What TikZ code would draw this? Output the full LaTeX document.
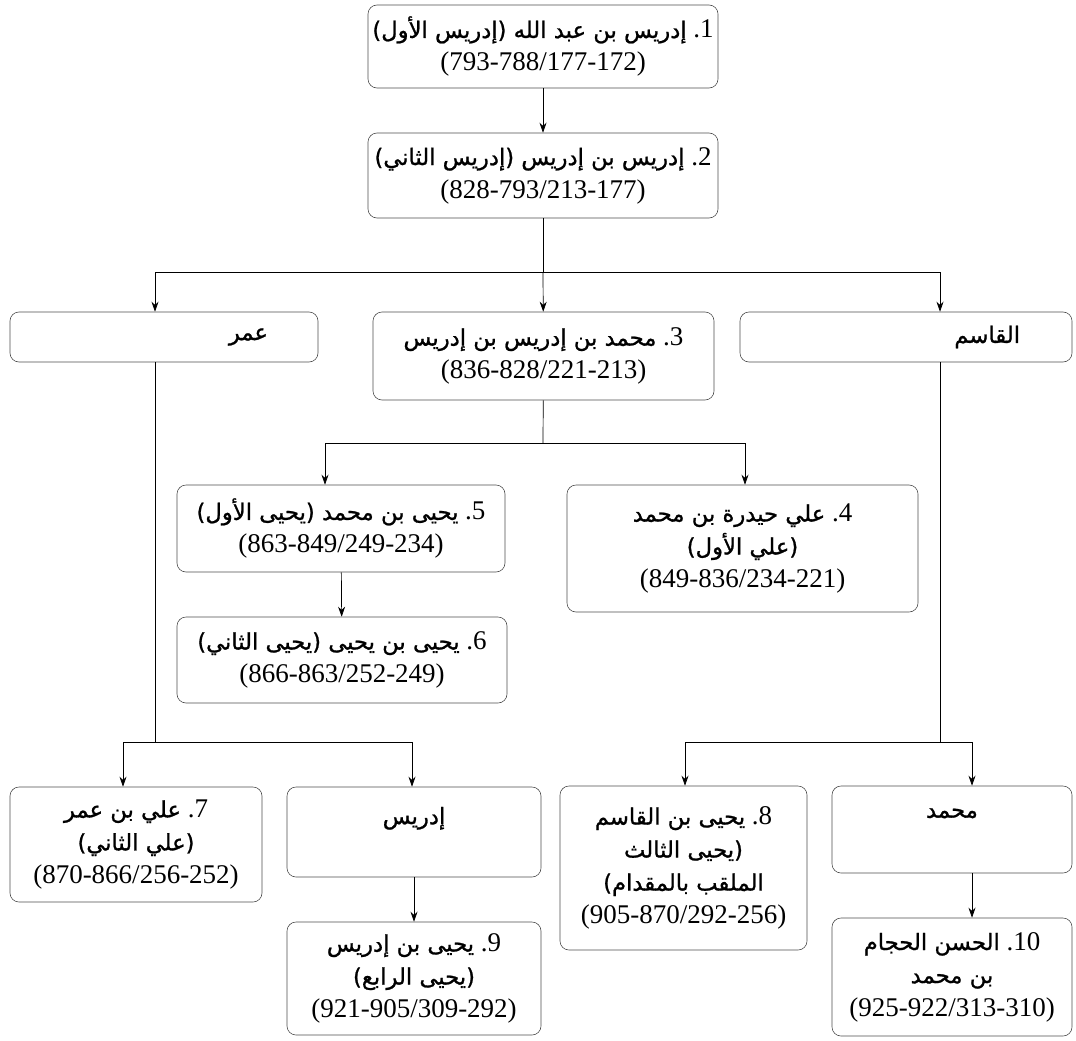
\documentclass[tikz,border=0pt]{standalone}
\usepackage{fontspec}
\setmainfont{Liberation Serif}
\newfontfamily\arabicfont[Script=Arabic,Scale=0.84,FakeBold=1]{DejaVu Sans}
\TeXXeTstate=1
\usetikzlibrary{arrows.meta}

\tikzset{
    box/.style={draw=black!70, line width=0.6pt, rounded corners=9pt, align=center,
        inner sep=2pt, font=\fontsize{27}{33}\selectfont},
    sidebox/.style={box, align=right},
    arr/.style={-{Stealth[length=10pt,width=7pt]}, line width=0.7pt},
    conn/.style={line width=0.7pt}
}

\begin{document}
\begin{tikzpicture}[x=1pt,y=-1pt]
    \useasboundingbox (0,0) rectangle (1076,1041);
    % top of the line
    \node[box, minimum width=350pt, minimum height=83pt] (b1) at (543,46.5)
        {{\arabicfont\beginR إدريس بن عبد الله (إدريس الأول)\endR}\ .1\\(793-788/177-172)};
    \node[box, minimum width=350pt, minimum height=85pt] (b2) at (543,175.5)
        {{\arabicfont\beginR إدريس بن إدريس (إدريس الثاني)\endR}\ .2\\(828-793/213-177)};
    % sons of the second
    \node[sidebox, inner xsep=50pt, text width=208pt, minimum height=50pt] (omar) at (164,337)
        {{\arabicfont\beginR عمر\endR}};
    \node[box, minimum width=341pt, minimum height=88pt] (b3) at (543.5,356)
        {{\arabicfont\beginR محمد بن إدريس بن إدريس\endR}\ .3\\(836-828/221-213)};
    \node[sidebox, inner xsep=52pt, text width=228pt, minimum height=50pt] (qasim) at (906,337)
        {{\arabicfont\beginR القاسم\endR}};
    % line of muhammad
    \node[box, minimum width=328pt, minimum height=87pt] (b5) at (341,528.5)
        {{\arabicfont\beginR يحيى بن محمد (يحيى الأول)\endR}\ .5\\(863-849/249-234)};
    \node[box, minimum width=351pt, minimum height=127pt] (b4) at (742.5,548.5)
        {{\arabicfont\beginR علي حيدرة بن محمد\endR}\ .4\\{\arabicfont\beginR (علي الأول)\endR}\\(849-836/234-221)};
    \node[box, minimum width=330pt, minimum height=86pt] (b6) at (342,660)
        {{\arabicfont\beginR يحيى بن يحيى (يحيى الثاني)\endR}\ .6\\(866-863/252-249)};
    % lines of omar and qasim
    \node[box, minimum width=252pt, minimum height=115pt] (b7) at (136,844.5)
        {{\arabicfont\beginR علي بن عمر\endR}\ .7\\{\arabicfont\beginR (علي الثاني)\endR}\\(870-866/256-252)};
    \node[box, minimum width=254pt, minimum height=90pt] (idris) at (414,832)
        {{\arabicfont\beginR إدريس\endR}\\\mbox{}};
    \node[box, minimum width=254pt, minimum height=113pt] (b9) at (414,978.5)
        {{\arabicfont\beginR يحيى بن إدريس\endR}\ .9\\{\arabicfont\beginR (يحيى الرابع)\endR}\\(921-905/309-292)};
    \node[box, minimum width=247pt, minimum height=164pt] (b8) at (683.5,868)
        {{\arabicfont\beginR يحيى بن القاسم\endR}\ .8\\{\arabicfont\beginR (يحيى الثالث\endR}\\{\arabicfont\beginR الملقب بالمقدام)\endR}\\(905-870/292-256)};
    \node[box, minimum width=240pt, minimum height=87pt] (muhammad) at (952,829.5)
        {{\arabicfont\beginR محمد\endR}\\\mbox{}};
    \node[box, minimum width=240pt, minimum height=118pt] (b10) at (952,977)
        {{\arabicfont\beginR الحسن الحجام\endR}\ .10\\{\arabicfont\beginR بن محمد\endR}\\(925-922/313-310)};

    % connectors
    \coordinate (bus1) at (543,272);
    \coordinate (bus2) at (543,443);
    \coordinate (bus3) at (155,742);
    \coordinate (bus4) at (940,742);
    \draw[arr] (b1) -- (b2);
    \draw[conn] (b2) -- (bus1);
    \draw[arr] (bus1) -| ([xshift=-9pt]omar.north);
    \draw[arr] (bus1) -- (b3);
    \draw[arr] (bus1) -| ([xshift=34pt]qasim.north);
    \draw[conn] (b3) -- (bus2);
    \draw[arr] (bus2) -| ([xshift=-16pt]b5.north);
    \draw[arr] (bus2) -| ([xshift=2.5pt]b4.north);
    \draw[arr] (b5) -- (b6);
    \draw[conn] ([xshift=-9pt]omar.south) -- (bus3);
    \draw[arr] (bus3) -| ([xshift=-13pt]b7.north);
    \draw[arr] (bus3) -| ([xshift=-2pt]idris.north);
    \draw[arr] (idris) -- (b9);
    \draw[conn] ([xshift=34pt]qasim.south) -- (bus4);
    \draw[arr] (bus4) -| ([xshift=1.5pt]b8.north);
    \draw[arr] (bus4) -| ([xshift=20pt]muhammad.north);
    \draw[arr] ([xshift=20pt]muhammad.south) -- ([xshift=20pt]b10.north);
\end{tikzpicture}
\end{document}
